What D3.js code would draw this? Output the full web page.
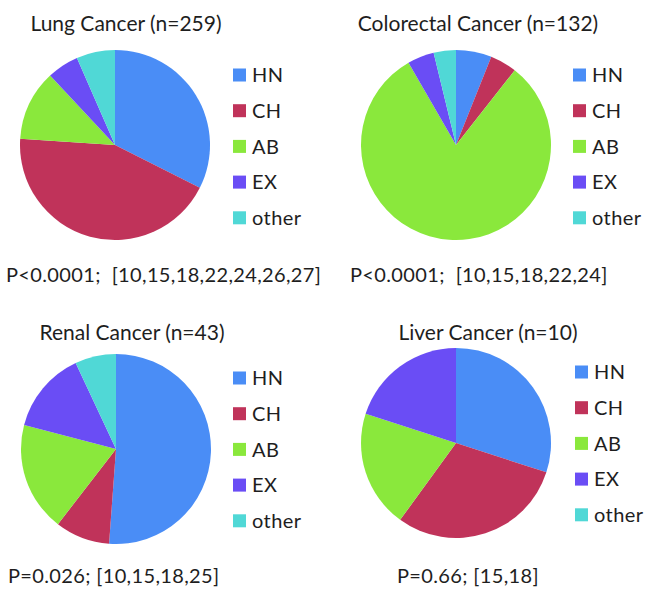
<!DOCTYPE html>
<html>
<head>
<meta charset="utf-8">
<script src="https://cdn.jsdelivr.net/npm/d3@7"></script>
<style>
  body { margin: 0; background: #fff; }
  text { font-family: Lato, "Open Sans", sans-serif; fill: #1e1e1e; white-space: pre; }
</style>
</head>
<body>
<svg id="chart"></svg>
<script>
// categories and colors
const categories = ["HN", "CH", "AB", "EX", "other"];
const colors = ["#4a8df6", "#c0335a", "#8ae83c", "#6a4df5", "#50d8d6"];

// panel data
const titles = ["Lung Cancer (n=259)", "Colorectal Cancer (n=132)", "Renal Cancer (n=43)", "Liver Cancer (n=10)"];
const lungValues = [84, 113, 31, 14, 17];
const colorectalValues = [8, 6, 107, 6, 5];
const renalValues = [22, 4, 8, 6, 3];
const liverValues = [3, 3, 2, 2, 0];
const pLabels = [
  "P<0.0001;  [10,15,18,22,24,26,27]",
  "P<0.0001;  [10,15,18,22,24]",
  "P=0.026; [10,15,18,25]",
  "P=0.66; [15,18]"
];

const allValues = [lungValues, colorectalValues, renalValues, liverValues];

// layout of each panel
const layout = [
  { cx: 115, cy: 145, tx: 126, ty: 31, lx: 233, ly: 75, px: 6, py: 282 },
  { cx: 456, cy: 145, tx: 478, ty: 31, lx: 573, ly: 75, px: 350, py: 282 },
  { cx: 116, cy: 449, tx: 132, ty: 340, lx: 233, ly: 378, px: 8, py: 583 },
  { cx: 456, cy: 443, tx: 488, ty: 340, lx: 575, ly: 372, px: 397, py: 583 }
];

const width = 646, height = 589;
const radius = 95;
const rowGap = 35.7;

const svg = d3.select("#chart").attr("width", width).attr("height", height);

const color = d3.scaleOrdinal().domain(categories).range(colors);
const pie = d3.pie().sort(null).value((d) => d.value);
const arc = d3.arc().innerRadius(0).outerRadius(radius);
const legendY = d3.scalePoint().domain(categories).range([0, rowGap * 4]);

allValues.forEach((vals, i) => {
  const L = layout[i];
  const data = categories.map((c, j) => ({ cat: c, value: vals[j] }));
  const g = svg.append("g");

  // pie
  g.append("g")
    .attr("transform", `translate(${L.cx},${L.cy})`)
    .selectAll("path")
    .data(pie(data))
    .enter()
    .append("path")
    .attr("d", arc)
    .attr("fill", (d) => color(d.data.cat));

  // title
  g.append("text")
    .attr("x", L.tx)
    .attr("y", L.ty)
    .attr("text-anchor", "middle")
    .style("font-size", "21px")
    .text(titles[i]);

  // legend
  const leg = g.append("g").attr("transform", `translate(${L.lx},${L.ly})`);
  const items = leg.selectAll(".item")
    .data(categories)
    .enter()
    .append("g")
    .attr("transform", (d) => `translate(0,${legendY(d)})`);
  items.append("rect")
    .attr("x", 0)
    .attr("y", -6.5)
    .attr("width", 13)
    .attr("height", 13)
    .attr("fill", (d) => color(d));
  items.append("text")
    .attr("x", 19)
    .attr("y", 0)
    .attr("dy", "0.36em")
    .style("font-size", "20px")
    .style("letter-spacing", "0.4px")
    .text((d) => d);

  // p-value
  g.append("text")
    .attr("x", L.px)
    .attr("y", L.py)
    .style("font-size", "20px")
    .style("letter-spacing", "0.35px")
    .text(pLabels[i]);
});
</script>
</body>
</html>
